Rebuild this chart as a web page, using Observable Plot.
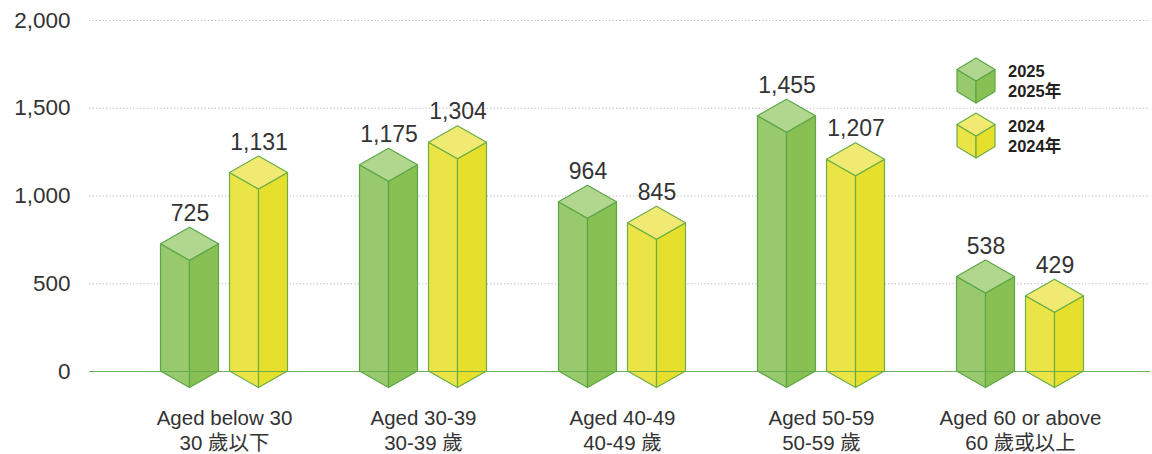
<!DOCTYPE html>
<html>
<head>
<meta charset="utf-8">
<script src="https://cdn.jsdelivr.net/npm/d3@7"></script>
<script src="https://cdn.jsdelivr.net/npm/@observablehq/plot@0.6"></script>
<style>
  body { margin: 0; background: #fff; }
  #wrap { position: relative; width: 1152px; height: 454px; overflow: hidden; }
  #legend { position: absolute; left: 956px; top: 57px; font-family: "Liberation Sans", "Noto Sans CJK TC", sans-serif; }
  .item { position: relative; height: 55px; }
  .item svg { position: absolute; left: 0; top: 0; }
  .item .lab { position: absolute; left: 52px; top: 4px; font-weight: bold; font-size: 16.5px; line-height: 20px; color: #231f20; white-space: nowrap; }
</style>
</head>
<body>
<div id="wrap"><div id="chart"></div><div id="legend"></div></div>
<script>
const categoriesEn = ["Aged below 30", "Aged 30-39", "Aged 40-49", "Aged 50-59", "Aged 60 or above"];
const categoriesZh = ["30 歲以下", "30-39 歲", "40-49 歲", "50-59 歲", "60 歲或以上"];
const years = ["2025", "2024"];
const yearLabelsZh = ["2025年", "2024年"];
const values2025 = [725, 1175, 964, 1455, 538];
const values2024 = [1131, 1304, 845, 1207, 429];
const yTicks = [0, 500, 1000, 1500, 2000];

const data = [];
categoriesEn.forEach((c, i) => {
  data.push({cat: c, year: "2025", value: values2025[i]});
  data.push({cat: c, year: "2024", value: values2024[i]});
});

const look = {
  "2025": {offset: -34.5, top: "#b1d78f", left: "#98c96c", right: "#88c054", stroke: "#5aa646"},
  "2024": {offset: 34.5, top: "#f0ea72", left: "#ebe447", right: "#e6df2b", stroke: "#6aae45"}
};
const HW = 29, HH = 16.5;

function prisms(index, scales, values) {
  const g = d3.create("svg:g");
  const b = scales.y(0);
  for (const i of index) {
    const d = data[i];
    const s = look[d.year];
    const cx = values.x[i] + s.offset;
    const t = values.y[i];
    const poly = pts => "M" + pts.map(p => p.join(",")).join("L") + "Z";
    const common = sel => sel.attr("stroke", s.stroke).attr("stroke-width", 1.2).attr("stroke-linejoin", "round");
    common(g.append("path").attr("fill", s.left)
      .attr("d", poly([[cx - HW, t], [cx, t + HH], [cx, b + HH], [cx - HW, b]])));
    common(g.append("path").attr("fill", s.right)
      .attr("d", poly([[cx, t + HH], [cx + HW, t], [cx + HW, b], [cx, b + HH]])));
    common(g.append("path").attr("fill", s.top)
      .attr("d", poly([[cx - HW, t], [cx, t - HH], [cx + HW, t], [cx, t + HH]])));
  }
  return g.node();
}

const fmt = d3.format(",");
const font = '"Liberation Sans", "Noto Sans CJK TC", sans-serif';

const chart = Plot.plot({
  width: 1152,
  height: 454,
  marginTop: 20,
  marginBottom: 83,
  marginLeft: 89,
  marginRight: 2,
  x: {type: "point", domain: categoriesEn, range: [124, 1120], padding: 0.5, axis: null},
  y: {domain: [0, 2000], axis: null},
  style: {fontFamily: font, fontSize: "22px", color: "#333", background: "#fff"},
  marks: [
    Plot.ruleY(yTicks.filter(d => d > 0), {stroke: "#b8b8b8", strokeDasharray: "1.2,2.2"}),
    Plot.axisY(yTicks, {tickSize: 0, tickPadding: 19, tickFormat: fmt, label: null, fontSize: 22.5, fill: "#333"}),
    Plot.dot(data, {x: "cat", y: "value", render: prisms}),
    Plot.ruleY([0], {stroke: "#62a84c", strokeOpacity: 0.9, strokeWidth: 1.2}),
    ...years.map(yr => Plot.text(data.filter(d => d.year === yr), {
      x: "cat", y: "value", text: d => fmt(d.value),
      dx: look[yr].offset, dy: -23.5, lineAnchor: "bottom", fontSize: 23, fill: "#333"
    })),
    Plot.text(categoriesEn, {
      x: d => d, frameAnchor: "bottom",
      text: (d, i) => d + "\n" + categoriesZh[i],
      lineAnchor: "top", dy: 35, lineHeight: 1.24, fontSize: 20.5, fill: "#333"
    })
  ]
});
document.getElementById("chart").appendChild(chart);

// Legend
const legend = document.getElementById("legend");
years.forEach((yr, k) => {
  const s = look[yr];
  const item = document.createElement("div");
  item.className = "item";
  const w = 19, h = 11.5, side = 22, cx = 20, t = 1;
  const P = pts => pts.map(p => p.join(",")).join(" ");
  item.innerHTML =
    `<svg width="42" height="50">` +
    `<polygon points="${P([[cx - w, t + h], [cx, t + 2 * h], [cx, t + 2 * h + side], [cx - w, t + h + side]])}" fill="${s.left}" stroke="${s.stroke}" stroke-width="1.2" stroke-linejoin="round"/>` +
    `<polygon points="${P([[cx, t + 2 * h], [cx + w, t + h], [cx + w, t + h + side], [cx, t + 2 * h + side]])}" fill="${s.right}" stroke="${s.stroke}" stroke-width="1.2" stroke-linejoin="round"/>` +
    `<polygon points="${P([[cx - w, t + h], [cx, t], [cx + w, t + h], [cx, t + 2 * h]])}" fill="${s.top}" stroke="${s.stroke}" stroke-width="1.2" stroke-linejoin="round"/>` +
    `</svg><div class="lab">${yr}<br>${yearLabelsZh[k]}</div>`;
  legend.appendChild(item);
});
</script>
</body>
</html>
